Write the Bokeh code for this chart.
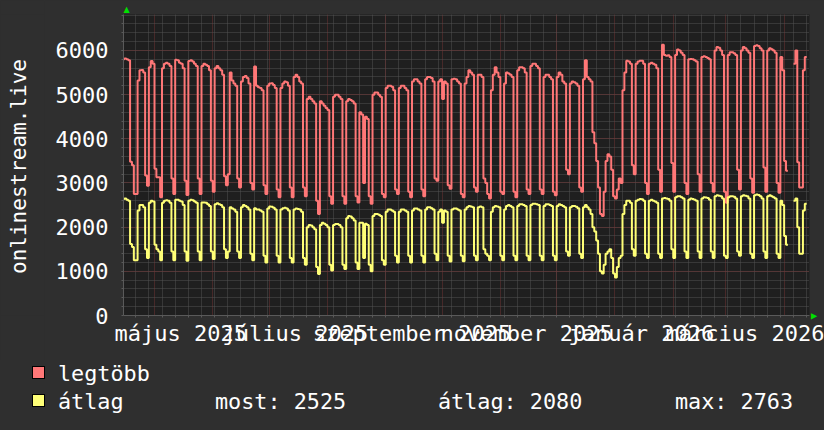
import math
import datetime as dt
from bokeh.plotting import figure
from bokeh.layouts import column, row
from bokeh.models import Range1d, FixedTicker, Title, GlobalInlineStyleSheet, Div
from bokeh.core.properties import value
from bokeh.embed import file_html
from bokeh.resources import INLINE

# ---------------- data (daily values, one line per week Mon..Sun) ----------------
first_day = "2025-04-14"

legtobb_a = [
    5800, 5820, 5800, 5780, 3480, 3400, 2750,
    2750, 5320, 5550, 5560, 5500, 3170, 2940,
    5620, 5760, 5700, 3320, 3130, 3130, 2680,
    5600, 5700, 5720, 5700, 5650, 3100, 2750,
    5790, 5780, 5720, 5700, 5600, 3050, 2730,
    5760, 5780, 5750, 5700, 5650, 3100, 2750,
    5650, 5700, 5680, 5650, 5550, 3050, 2800,
    5600, 5650, 5600, 5550, 5450, 3150, 2950,
    3200, 5500, 5320, 5250, 5200, 3100, 2900,
    5300, 5400, 5420, 5380, 5250, 3000, 2850,
    5640, 5200, 5170, 5150, 5100, 2950, 2750,
    5200, 5250, 5260, 5220, 5150, 2850, 2680,
    5150, 5250, 5300, 5280, 5200, 2900, 2680,
    5400, 5450, 5400, 5300, 5250, 2900, 2700,
    4900, 4950, 4900, 4850, 4800, 2600, 2300,
    4850, 4800, 4750, 4700, 4650, 2700, 2530,
    4950, 5000, 5000, 4950, 4900, 2700, 2530,
    4850, 4900, 4880, 4850, 4800, 2700, 2560,
    4600, 4550, 3000, 4500, 4450, 2700, 2530,
    5000, 5050, 5050, 5000, 4950, 2750, 2680,
    5150, 5200, 5200, 5180, 5100, 2850, 2750,
    5150, 5200, 5200, 5150, 5100, 2800, 2680,
    5300, 5350, 5350, 5300, 5250, 2850, 2700,
    5350, 5400, 5400, 5380, 5300, 3100, 3050,
    5300, 5350, 4900, 5300, 5250, 2950, 2870,
    5350, 5360, 5350, 5300, 5250, 2750, 2680,
]
legtobb_b = [
    5250, 5400, 5550, 5500, 5450, 2900, 2800,
    5450, 5450, 5400, 3100, 3000, 2750, 2650,
    5100, 5450, 5620, 5500, 5400, 2800, 2750,
    5250, 5500, 5480, 5450, 5400, 2800, 2680,
    5550, 5620, 5620, 5600, 5500, 2850, 2750,
    5650, 5700, 5700, 5650, 5600, 2850, 2750,
    5400, 5450, 5450, 5400, 5350, 2800, 2720,
    5400, 5500, 5450, 5300, 5250, 3300, 3200,
    5250, 5300, 5280, 5250, 5200, 2900, 2800,
    5350, 5780, 5400, 5350, 5300, 4150, 3900,
    3500, 2900, 2300, 2250, 2800, 3500, 3650,
    3600, 3300, 2700, 2650, 2850, 3100, 3000,
    5100, 5500, 5770, 5750, 5700, 3400, 3200,
    5700, 5750, 5770, 5770, 5700, 3000, 2750,
    5700, 5720, 5700, 5680, 5600, 3300, 2800,
    6130, 5900, 5880, 5890, 5850, 3450, 2800,
    5900, 6020, 6000, 5950, 5900, 3000, 2750,
    5800, 5810, 5800, 5780, 5750, 3200, 2800,
    5850, 5870, 5850, 5830, 5800, 3000, 2800,
    6000, 6080, 6060, 6000, 5900, 2800, 2550,
    5900, 5960, 5960, 5940, 5900, 3300, 2850,
    6000, 6080, 6050, 6000, 5950, 3100, 2780,
    6100, 6120, 6100, 6050, 6000, 3350, 2800,
    6000, 6050, 6030, 6000, 5950, 3000, 2780,
    5850, 5550, 3500, 3280, None, None, None,
    5700, 6000, 3470, 2900, 2900, 5550, 5850,
]
atlag_a = [
    2640, 2650, 2620, 2600, 1620, 1550, 1250,
    1250, 2380, 2500, 2500, 2450, 1500, 1300,
    2550, 2600, 2580, 1600, 1500, 1450, 1250,
    2550, 2600, 2610, 2600, 2550, 1450, 1250,
    2620, 2620, 2600, 2580, 2500, 1450, 1240,
    2600, 2620, 2610, 2580, 2550, 1450, 1250,
    2560, 2560, 2550, 2520, 2480, 1450, 1280,
    2520, 2540, 2520, 2500, 2450, 1500, 1300,
    1450, 2450, 2420, 2400, 2350, 1450, 1300,
    2450, 2500, 2480, 2450, 2400, 1400, 1250,
    2430, 2400, 2400, 2380, 2350, 1350, 1200,
    2420, 2470, 2460, 2440, 2400, 1350, 1200,
    2400, 2430, 2440, 2420, 2380, 1300, 1200,
    2400, 2420, 2410, 2400, 2350, 1300, 1150,
    2000, 2050, 2040, 2000, 1950, 1100, 940,
    2050, 2100, 2080, 2050, 2000, 1150, 1020,
    2050, 2070, 2070, 2050, 2000, 1150, 1050,
    2200, 2250, 2240, 2200, 2150, 1200, 1050,
    2100, 2100, 1300, 2080, 2050, 1150, 1000,
    2250, 2300, 2300, 2280, 2250, 1250, 1150,
    2350, 2400, 2400, 2380, 2350, 1350, 1200,
    2350, 2400, 2400, 2380, 2350, 1350, 1200,
    2380, 2420, 2420, 2400, 2380, 1350, 1200,
    2400, 2450, 2450, 2430, 2400, 1400, 1250,
    2350, 2400, 2100, 2380, 2350, 1350, 1220,
    2400, 2420, 2420, 2400, 2380, 1350, 1230,
]
atlag_b = [
    2400, 2450, 2480, 2470, 2450, 1350, 1250,
    2450, 2470, 2450, 1500, 1400, 1350, 1250,
    2350, 2450, 2480, 2470, 2450, 1350, 1250,
    2400, 2480, 2500, 2480, 2450, 1350, 1250,
    2480, 2520, 2520, 2500, 2480, 1350, 1250,
    2500, 2530, 2530, 2520, 2500, 1350, 1250,
    2480, 2520, 2520, 2500, 2480, 1350, 1250,
    2480, 2520, 2500, 2480, 2450, 1450, 1350,
    2450, 2480, 2480, 2460, 2430, 1400, 1300,
    2450, 2500, 2450, 2400, 2300, 2000, 1900,
    1700, 1400, 1000, 950, 1150, 1400, 1450,
    1500, 1300, 950, 860, 1100, 1300, 1350,
    2300, 2500, 2600, 2600, 2550, 1500, 1350,
    2600, 2620, 2640, 2630, 2600, 1400, 1300,
    2600, 2620, 2600, 2580, 2550, 1400, 1300,
    2650, 2660, 2650, 2640, 2600, 1500, 1300,
    2680, 2700, 2700, 2680, 2650, 1450, 1300,
    2620, 2650, 2640, 2620, 2600, 1450, 1300,
    2650, 2680, 2670, 2660, 2620, 1450, 1300,
    2700, 2720, 2710, 2700, 2650, 1350, 1300,
    2680, 2700, 2700, 2690, 2650, 1450, 1350,
    2700, 2720, 2710, 2700, 2650, 1400, 1300,
    2720, 2740, 2730, 2700, 2650, 1450, 1300,
    2700, 2720, 2700, 2680, 2650, 1400, 1300,
    2600, 2500, 1800, 1600, None, None, None,
    2600, 2650, 2000, 1400, 1400, 2380, 2530,
]

y_title = "onlinestream.live"
y_ticks = [0, 1000, 2000, 3000, 4000, 5000, 6000]
x_label_dates = ["2025-05-15", "2025-07-15", "2025-09-15", "2025-11-15", "2026-01-15", "2026-03-15"]
x_labels = ["május 2025", "július 2025", "szeptember 2025", "november 2025", "január 2026", "március 2026"]
series_names = ["legtöbb", "átlag"]
stat_texts = ["most: 2525", "átlag: 2080", "max: 2763"]

# ---------------- styling ----------------
BG = "#2f2f2f"
PLOT_BG = "#1f1f1f"
RED = "#ff7777"
YEL = "#ffff77"
TXT = "#ffffff"
FONT = "DejaVu Sans Mono"
MINOR = "#525252"
MAJOR = "#703434"
AXIS = "#5a5a5a"
ARROW = "#00e000"

EPOCH = dt.datetime(1970, 1, 1)
def ms(d):
    return (d - EPOCH).total_seconds() * 1000.0

d0 = dt.datetime.fromisoformat(first_day)
t_start = d0 + dt.timedelta(hours=12)
t_end = t_start + dt.timedelta(days=365)
X0, X1 = ms(t_start), ms(t_end)
Y0, Y1 = 0, 6815

page_css = GlobalInlineStyleSheet(css="body { margin: 0; overflow: hidden; background: %s; }" % BG)

TOP, BOTTOM = 14, 45
STRIP = 44  # width of the strip holding the vertical title

p = figure(x_axis_type="datetime", output_backend="svg", toolbar_location=None,
           frame_width=686, frame_height=301,
           min_border_left=123 - STRIP, min_border_right=15, min_border_top=TOP, min_border_bottom=BOTTOM,
           x_range=Range1d(X0, X1), y_range=Range1d(Y0, Y1))
p.background_fill_color = PLOT_BG
p.border_fill_color = BG
p.outline_line_color = None
p.stylesheets = [page_css]

# ticks / grid positions
month_starts = []
y, m = 2025, 4
while True:
    d = dt.datetime(y, m, 1)
    if d > t_end:
        break
    month_starts.append(ms(d))
    m += 1
    if m > 12:
        m, y = 1, y + 1
mondays = []
d = d0
while d <= t_end:
    mondays.append(ms(d))
    d += dt.timedelta(days=7)
y_minor = list(range(200, 7000, 200))

p.xgrid.ticker = FixedTicker(ticks=month_starts, minor_ticks=mondays)
p.ygrid.ticker = FixedTicker(ticks=y_ticks, minor_ticks=y_minor)
for g in (p.xgrid, p.ygrid):
    g.grid_line_color = MAJOR
    g.grid_line_dash = "1 1"
    g.grid_line_width = 1
    g.minor_grid_line_color = MINOR
    g.minor_grid_line_dash = "1 1"
    g.minor_grid_line_width = 1

label_ticks = [ms(dt.datetime.fromisoformat(s)) for s in x_label_dates]
xa = p.xaxis[0]
xa.ticker = FixedTicker(ticks=label_ticks, minor_ticks=mondays)
xa.major_label_overrides = {t: s for t, s in zip(label_ticks, x_labels)}
xa.major_tick_out = 0
xa.major_tick_in = 0
xa.minor_tick_out = 2
xa.minor_tick_in = 0
xa.major_label_standoff = 3

ya = p.yaxis[0]
ya.ticker = FixedTicker(ticks=y_ticks, minor_ticks=y_minor)
ya.major_tick_out = 2
ya.major_tick_in = 0
ya.minor_tick_out = 2
ya.minor_tick_in = 0
ya.major_label_standoff = 13

for ax in (xa, ya):
    ax.axis_line_color = AXIS
    ax.major_tick_line_color = AXIS
    ax.minor_tick_line_color = AXIS
    ax.major_label_text_font = FONT
    ax.major_label_text_font_size = "22px"
    ax.major_label_text_color = TXT

# small green axis arrows
p.add_layout(Title(text="▲", align="left", offset=0, standoff=1, text_font="DejaVu Sans",
                   text_font_size="8px", text_color=ARROW, text_font_style="normal"), "above")
p.add_layout(Title(text="▲", align="right", offset=-4, standoff=0, text_font="DejaVu Sans",
                   text_font_size="8px", text_color=ARROW, text_font_style="normal"), "right")

# ---------------- series ----------------
def segments(values):
    segs, cur = [], ([], [])
    for i, v in enumerate(values):
        day = d0 + dt.timedelta(days=i)
        if v is None:
            if cur[0]:
                cur[0].append(day)
                cur[1].append(cur[1][-1])
                segs.append(cur)
            cur = ([], [])
        else:
            cur[0].append(day)
            cur[1].append(v)
    if cur[0]:
        cur[0].append(d0 + dt.timedelta(days=len(values)))
        cur[1].append(cur[1][-1])
        segs.append(cur)
    return segs

for vals, col in ((legtobb_a + legtobb_b, RED), (atlag_a + atlag_b, YEL)):
    for xs, ys in segments(vals):
        p.step(xs, ys, mode="after", line_color=col, line_width=2)

# ---------------- vertical axis title (strip left of the plot, page-pixel coordinates) ----------------
tf = figure(width=STRIP, height=TOP + 301 + BOTTOM, output_backend="svg", toolbar_location=None,
            x_axis_location=None, y_axis_location=None,
            x_range=Range1d(0, STRIP), y_range=Range1d(0, 301),
            min_border=0, min_border_left=0, min_border_right=0,
            min_border_top=TOP, min_border_bottom=BOTTOM)
tf.grid.visible = False
tf.outline_line_color = None
tf.background_fill_color = BG
tf.border_fill_color = BG
tf.text(x=[18], y=[315 - 166], text=[y_title], angle=math.pi / 2, text_font=value(FONT),
        text_font_size="21px", text_color=TXT, text_align="center", text_baseline="alphabetic")

# ---------------- legend strip ----------------
def box(left, top, color):
    return ('<div style="position:absolute;left:%dpx;top:%dpx;width:13px;height:13px;'
            'background:%s;border:1px solid #000;"></div>' % (left, top, color))

def txt(left, top, s):
    return '<div style="position:absolute;left:%dpx;top:%.1fpx;">%s</div>' % (left, top, s)

legend_html = (
    '<div style="position:relative;width:824px;height:70px;background:%s;color:%s;'
    'font-family:\'%s\',monospace;font-size:21.8px;line-height:1;white-space:pre;">' % (BG, TXT, FONT)
    + box(32, 6, RED) + txt(58, 2.6, series_names[0])
    + box(32, 34, YEL) + txt(58, 30.6, series_names[1])
    + txt(215, 30.6, stat_texts[0]) + txt(438, 30.6, stat_texts[1]) + txt(675, 30.6, stat_texts[2])
    + '</div>'
)
legend_div = Div(text=legend_html, width=824, height=70, margin=0)

layout = column(row(tf, p, spacing=0), legend_div, spacing=0)

open("out.html", "w").write(file_html(layout, INLINE))
